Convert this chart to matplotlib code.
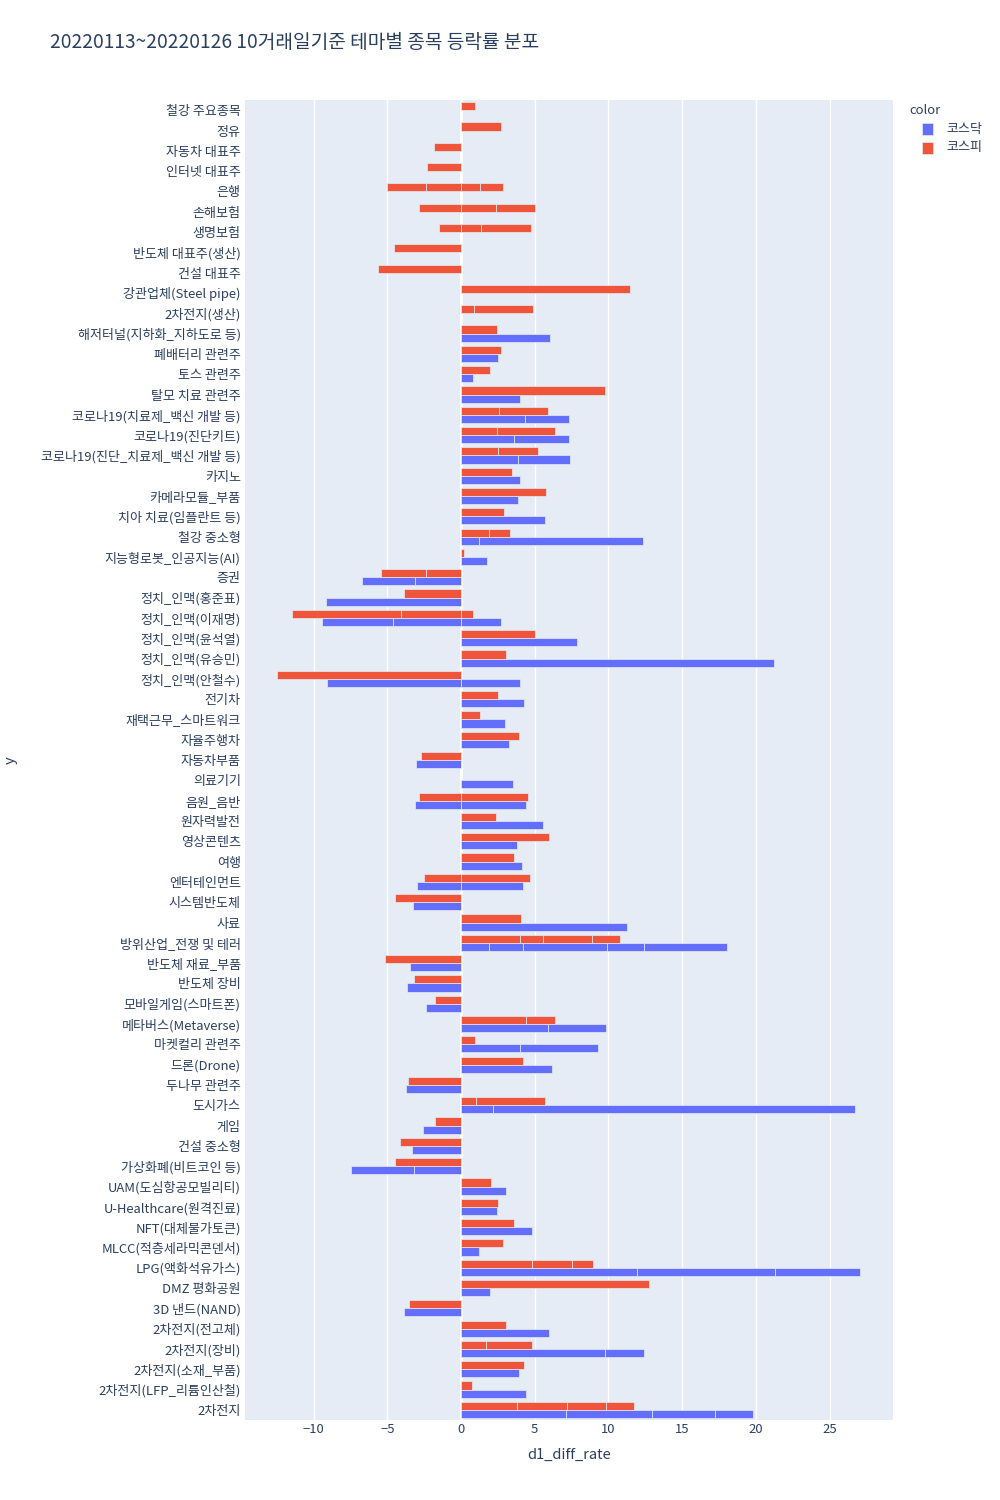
import matplotlib
matplotlib.use('Agg')
import matplotlib.pyplot as plt
from matplotlib.patches import Rectangle

plt.rcParams['font.family'] = ['Noto Sans CJK KR', 'DejaVu Sans']

# themes listed top -> bottom as they appear in the chart
themes = [
    '철강 주요종목', '정유', '자동차 대표주', '인터넷 대표주', '은행', '손해보험', '생명보험',
    '반도체 대표주(생산)', '건설 대표주', '강관업체(Steel pipe)', '2차전지(생산)',
    '해저터널(지하화_지하도로 등)', '폐배터리 관련주', '토스 관련주', '탈모 치료 관련주',
    '코로나19(치료제_백신 개발 등)', '코로나19(진단키트)', '코로나19(진단_치료제_백신 개발 등)',
    '카지노', '카메라모듈_부품', '치아 치료(임플란트 등)', '철강 중소형', '지능형로봇_인공지능(AI)',
    '증권', '정치_인맥(홍준표)', '정치_인맥(이재명)', '정치_인맥(윤석열)', '정치_인맥(유승민)',
    '정치_인맥(안철수)', '전기차', '재택근무_스마트워크', '자율주행차', '자동차부품', '의료기기',
    '음원_음반', '원자력발전', '영상콘텐츠', '여행', '엔터테인먼트', '시스템반도체', '사료',
    '방위산업_전쟁 및 테러', '반도체 재료_부품', '반도체 장비', '모바일게임(스마트폰)',
    '메타버스(Metaverse)', '마켓컬리 관련주', '드론(Drone)', '두나무 관련주', '도시가스', '게임',
    '건설 중소형', '가상화폐(비트코인 등)', 'UAM(도심항공모빌리티)', 'U-Healthcare(원격진료)',
    'NFT(대체불가토큰)', 'MLCC(적층세라믹콘덴서)', 'LPG(액화석유가스)', 'DMZ 평화공원',
    '3D 낸드(NAND)', '2차전지(전고체)', '2차전지(장비)', '2차전지(소재_부품)',
    '2차전지(LFP_리튬인산철)', '2차전지',
]

# per-stock d1_diff_rate values for each theme (same order as themes)
kosdaq = [
    [], [], [], [], [], [], [], [], [], [], [],
    [6.04], [2.51], [0.80], [3.99], [4.36, 2.99], [3.59, 3.73], [3.87, 3.51],
    [4.02], [3.87], [5.73], [1.20, 11.16], [1.79], [-3.11, -3.59], [-9.15],
    [-4.64, -4.76, 2.71], [7.89], [21.25], [-9.09, 4.02], [4.27], [2.99], [3.25],
    [-3.08], [3.50], [-3.11, 4.42], [5.58], [3.79], [4.13], [-2.96, 4.19], [-3.28],
    [11.28], [1.91, 2.31, 5.69, 2.51, 5.59], [-3.45], [-3.68], [-2.36], [5.93, 3.93],
    [4.02, 5.24], [6.15], [-3.70], [2.14, 24.61], [-2.56], [-3.30], [-3.22, -4.24],
    [3.08], [2.42], [4.84], [1.23], [11.94, 9.37, 5.76], [1.97], [-3.85], [5.98],
    [9.77, 2.65], [3.90], [4.44], [7.12, 5.84, 4.30, 2.57],
]
kospi = [
    [0.94], [2.70], [-1.80], [-2.28], [-2.39, -2.65, 1.28, 1.57], [-2.85, 2.39, 2.65],
    [-1.48, 1.37, 3.36], [-4.56], [-5.64], [11.45], [0.88, 3.99],
    [2.45], [2.71], [1.97], [9.74], [2.59, 3.31], [2.45, 3.90], [2.48, 2.76],
    [3.45], [5.75], [2.91], [1.88, 1.45], [0.20], [-2.34, -3.07], [-3.87],
    [-4.05, -7.40, 0.83], [5.01], [3.05], [-12.45], [2.51], [1.31], [3.93],
    [-2.68], [], [-2.85, 4.56], [2.39], [5.98], [3.59], [-2.54, 4.67], [-4.47],
    [4.05], [4.02, 1.56, 3.28, 1.94], [-5.13], [-3.22], [-1.77], [4.44, 1.91],
    [0.94], [4.19], [-3.59], [1.03, 4.70], [-1.77], [-4.16], [-4.50],
    [2.05], [2.51], [3.62], [2.85], [4.79, 2.73, 1.43], [12.74], [-3.50], [3.08],
    [1.71, 3.08], [4.27], [0.74], [3.82, 3.39, 2.65, 1.85],
]

series = [('코스닥', kosdaq, '#636EFA', -0.2), ('코스피', kospi, '#EF553B', 0.2)]
bg = '#E5ECF6'
txt = '#2a3f5f'

fig = plt.figure(figsize=(10, 15), dpi=100)
ax = fig.add_axes([0.245, 0.0533, 0.648, 0.88])
ax.set_facecolor(bg)

n = len(themes)
for name, data, color, off in series:
    for i, vals in enumerate(data):
        y = n - 1 - i + off
        pos, neg = 0.0, 0.0
        for v in vals:
            if v >= 0:
                ax.barh(y, v, left=pos, height=0.4, color=color,
                        edgecolor=bg, linewidth=0.5, zorder=3)
                pos += v
            else:
                ax.barh(y, v, left=neg, height=0.4, color=color,
                        edgecolor=bg, linewidth=0.5, zorder=3)
                neg += v

ax.set_xlim(-14.65, 29.3)
ax.set_ylim(-0.5, n - 0.5)
ax.set_yticks(range(n))
ax.set_yticklabels(themes[::-1])
ax.set_xticks(range(-10, 30, 5))
ax.tick_params(axis='both', length=0, labelsize=9.4, labelcolor=txt)
ax.tick_params(axis='y', pad=3)
ax.tick_params(axis='x', pad=2)
ax.grid(axis='x', color='white', linewidth=1, zorder=1)
ax.axvline(0, color='white', linewidth=2, zorder=2)
for s in ax.spines.values():
    s.set_visible(False)

ax.set_xlabel('d1_diff_rate', fontsize=10.5, color=txt, labelpad=9)
fig.text(0.011, 1 - 760 / 1500, 'y', rotation=90, fontsize=10.5, color=txt,
         ha='center', va='center')
fig.text(0.05, 1 - 43 / 1500, '20220113~20220126 10거래일기준 테마별 종목 등락률 분포',
         fontsize=13.8, color=txt, ha='left', va='center')

# legend
fig.text(0.909, 1 - 111 / 1500, 'color', fontsize=9.4, color=txt, ha='left', va='center')
for k, (name, data, color, off) in enumerate(series):
    yc = 1 - (129 + 19 * k) / 1500
    fig.patches.append(Rectangle((0.922, yc - 0.0037), 0.011, 0.0074,
                                 transform=fig.transFigure, facecolor=color,
                                 edgecolor=bg, linewidth=0.5))
    fig.text(0.946, yc, name, fontsize=9.4, color=txt, ha='left', va='center')

fig.savefig('out.png', dpi=100, facecolor='white')
